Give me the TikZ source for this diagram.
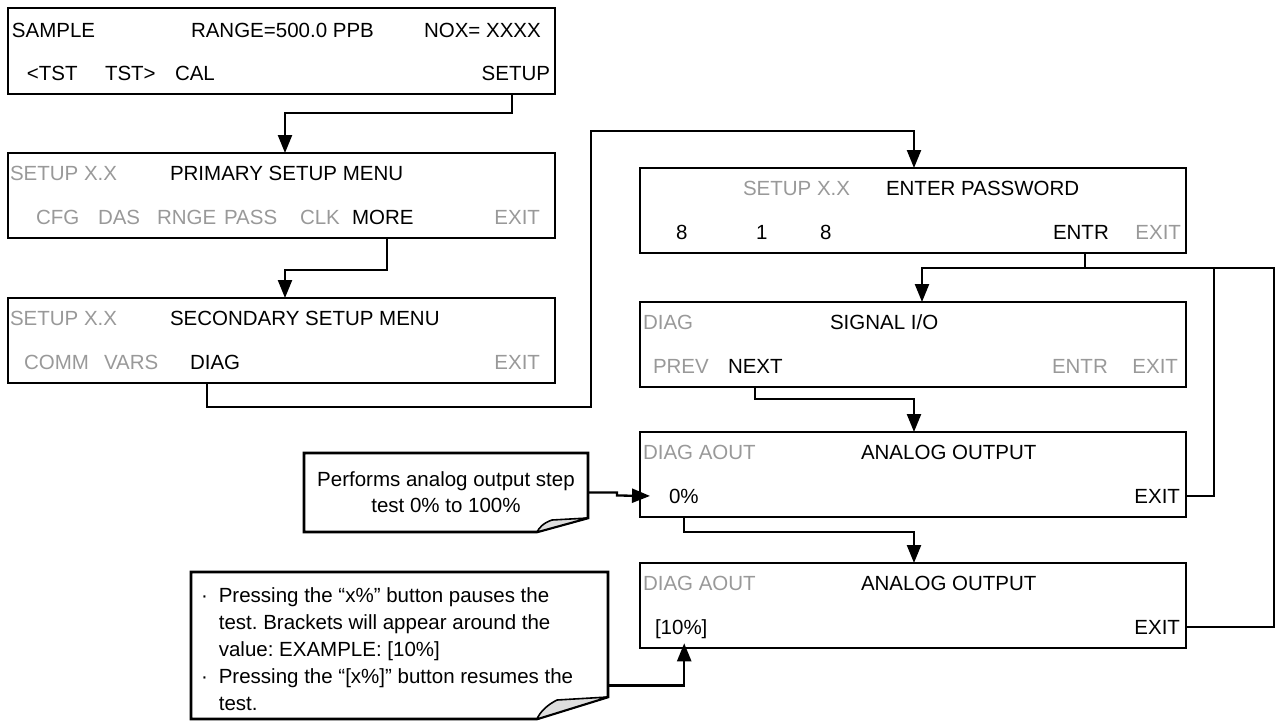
\documentclass[tikz,border=0pt]{standalone}
\usepackage{fontspec}
\setmainfont{Liberation Sans}
\usetikzlibrary{arrows.meta}
\definecolor{dimtext}{gray}{0.6}
\definecolor{foldgray}{gray}{0.87}
\frenchspacing
\begin{document}
\begin{tikzpicture}[x=1pt,y=-1pt,
  lcd/.style={draw, line width=2.6pt, anchor=north west, inner sep=0pt, outer sep=0pt, minimum height=85pt},
  lw/.style={lcd, minimum width=547pt},
  rw/.style={lcd, minimum width=546pt},
  txt/.style={anchor=base west, inner sep=0pt, outer sep=0pt, font=\fontsize{20.5}{24}\selectfont},
  dim/.style={txt, text=dimtext},
  rtxt/.style={txt, anchor=base east},
  rdim/.style={dim, anchor=base east},
  conn/.style={line width=2.3pt, line join=miter},
  arr/.style={conn, -{Triangle[length=18pt,width=14pt]}},
  callout/.style={draw, line width=2.6pt, line join=miter, fill=white},
  fold/.style={draw, line width=1.6pt, fill=foldgray, line join=round},
  ctext/.style={inner sep=0pt, outer sep=0pt, font=\fontsize{20.5}{26}\selectfont},
]
\useasboundingbox (0,0) rectangle (1275,721);

% ---------- boxes ----------
\node[lw, minimum height=86pt] (b1) at (8,8) {};
\node[lw] (b2) at (8,153) {};
\node[lw] (b3) at (8,298) {};
\node[rw] (p) at (640,168) {};
\node[rw] (s) at (640,302) {};
\node[rw] (a1) at (640,432) {};
\node[rw] (a2) at (640,563) {};

% ---------- box 1 ----------
\node[txt] (sample) at (12,37) {SAMPLE};
\node[txt] (range) at (191,37) {RANGE=500.0 PPB};
\node[txt] (nox) at (424,37) {NOX= XXXX};
\node[txt] (tstl) at (27,80) {<TST};
\node[txt] (tstr) at (105,80) {TST>};
\node[txt] (cal) at (175,80) {CAL};
\node[rtxt] (setup) at (550,80) {SETUP};

% ---------- box 2 ----------
\node[dim] (id2) at (10,180) {SETUP X.X};
\node[txt] (prim) at (170,180) {PRIMARY SETUP MENU};
\node[dim] (cfg) at (36,224) {CFG};
\node[dim] (das) at (98,224) {DAS};
\node[dim] (rnge) at (157,224) {RNGE};
\node[dim] (pass) at (224,224) {PASS};
\node[dim] (clk) at (300,224) {CLK};
\node[txt] (more) at (352,224) {MORE};
\node[rdim] (ex2) at (540,224) {EXIT};

% ---------- box 3 ----------
\node[dim] (id3) at (10,325) {SETUP X.X};
\node[txt] (sec) at (170,325) {SECONDARY SETUP MENU};
\node[dim] (comm) at (24,369) {COMM};
\node[dim] (vars) at (104,369) {VARS};
\node[txt] (diag) at (190,369) {DIAG};
\node[rdim] (ex3b) at (540,369) {EXIT};

% ---------- password ----------
\node[dim] (idp) at (743,195) {SETUP X.X};
\node[txt] (pw) at (886,195) {ENTER PASSWORD};
\node[txt] (d1) at (676,239) {8};
\node[txt] (d2) at (756,239) {1};
\node[txt] (d3) at (820,239) {8};
\node[txt] (entr) at (1053,239) {ENTR};
\node[rdim] (exp) at (1181,239) {EXIT};

% ---------- signal I/O ----------
\node[dim] (ids) at (643,329) {DIAG};
\node[txt] (sig) at (830,329) {SIGNAL I/O};
\node[dim] (prev) at (653,373) {PREV};
\node[txt] (next) at (728,373) {NEXT};
\node[dim] (entrs) at (1052,373) {ENTR};
\node[rdim] (exs) at (1178,373) {EXIT};

% ---------- analog output 1 ----------
\node[dim] (ida1) at (643,459) {DIAG AOUT};
\node[txt] (ao1) at (861,459) {ANALOG OUTPUT};
\node[txt] (zero) at (669,503) {0\%};
\node[rtxt] (exa1) at (1180,503) {EXIT};

% ---------- analog output 2 ----------
\node[dim] (ida2) at (643,590) {DIAG AOUT};
\node[txt] (ao2) at (861,590) {ANALOG OUTPUT};
\node[txt] (ten) at (655,634) {[10\%]};
\node[rtxt] (exa2) at (1180,634) {EXIT};

% ---------- callouts ----------
\draw[callout] (304,453) -- (588,453) -- (588,518) -- (537,532) -- (304,532) -- cycle;
\draw[fold] (588,518) -- (552,520) .. controls (543,523) and (539,528) .. (537,532) -- cycle;
\node[ctext, anchor=north west, minimum width=284pt, minimum height=79pt, align=center] (c1) at (304,453)
  {Performs analog output step\\test 0\% to 100\%};

\draw[callout] (191,572) -- (608,572) -- (608,697) -- (537,719) -- (191,719) -- cycle;
\draw[fold] (608,697) -- (557,700) .. controls (547,705) and (540,712) .. (537,719) -- cycle;
\node[anchor=north west, minimum width=417pt, minimum height=147pt, inner sep=0pt, outer sep=0pt] (c2) at (191,572) {};
\node[anchor=base west, inner sep=0pt, outer sep=0pt, font=\fontsize{20.5}{27}\selectfont] (c2t) at (201,602)
  {\begin{tabular}[t]{@{}l@{\hspace{11pt}}l@{}}
   ·& Pressing the “x\%” button pauses the\\
    & test. Brackets will appear around the\\
    & value: EXAMPLE: [10\%]\\
   ·& Pressing the “[x\%]” button resumes the\\
    & test.
   \end{tabular}};

% ---------- connectors ----------
\coordinate (k1) at (285,113);
\draw[arr] ([xshift=-4pt]setup.south |- b1.south) |- (k1) -- (k1 |- b2.north);

\coordinate (k2) at (285,270);
\draw[arr] ([xshift=4pt]more.south |- b2.south) |- (k2) -- (k2 |- b3.north);

\coordinate (k3) at (591,407);
\coordinate (k4) at (914,131);
\draw[arr] ([xshift=-8pt]diag.south |- b3.south) |- (k3) |- (k4) -- (k4 |- p.north);

\coordinate (k5) at (922,268);
\coordinate (k6) at (1274,268);
\coordinate (k7) at (1214,268);
\draw[conn] ([xshift=4pt]entr.south |- p.south) -- ([xshift=4pt]entr.south |- k5);
\draw[arr] (exa2.east -| a2.east) -| (k6) -- (k5) -- (k5 |- s.north);
\draw[conn] (exa1.east -| a1.east) -| (k7);

\coordinate (k8) at (914,399);
\draw[arr] (next.south |- s.south) |- (k8) -- (k8 |- a1.north);

\coordinate (k9) at (914,532);
\draw[arr] (zero.south |- a1.south) |- (k9) -- (k9 |- a2.north);

\draw[arr] (c1.east) -- ++(29,0) -- ++(0,3) -- ([xshift=-19pt]zero.west);
\draw[arr] ([yshift=-40pt]c2.east) -| ([xshift=3pt,yshift=-5pt]ten.south);
\end{tikzpicture}
\end{document}
